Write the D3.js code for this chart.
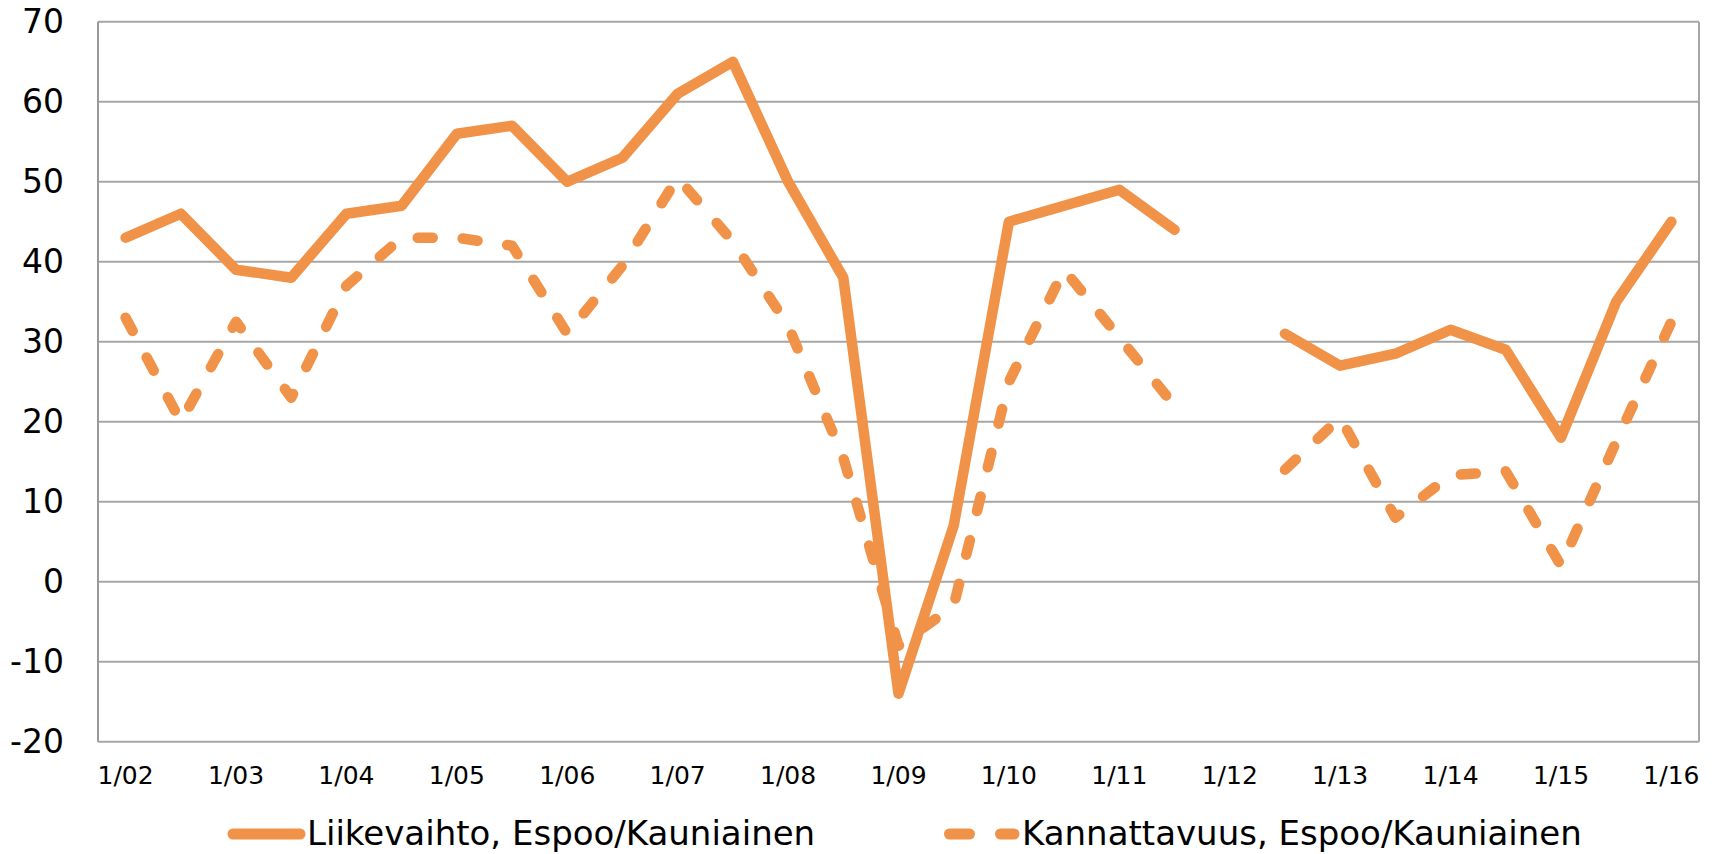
<!DOCTYPE html>
<html>
<head>
<meta charset="utf-8">
<script src="https://cdn.jsdelivr.net/npm/d3@7"></script>
<style>
  body { margin: 0; background: #fff; }
  text { font-family: "DejaVu Sans", sans-serif; fill: #000; }
</style>
</head>
<body>
<div id="chart"></div>
<script>
// half-year observations, 1/02 ... 1/16
let categories = ["1/02", "7/02", "1/03", "7/03", "1/04", "7/04", "1/05", "7/05",
    "1/06", "7/06", "1/07", "7/07", "1/08", "7/08", "1/09", "7/09", "1/10", "7/10",
    "1/11", "7/11", "1/12", "7/12", "1/13", "7/13", "1/14", "7/14", "1/15", "7/15", "1/16"];

let liikevaihto = [43, 46, 39, 38, 46, 47, 56, 57, 50, 53, 61, 65, 50, 38, -14, 7, 45, 47,
    49, 44, null, 31, 27, 28.5, 31.5, 29, 18, 35, 45];

let kannattavuus = [33, 20, 32.5, 23, 37, 43, 43, 42, 31, 39.5, 50.5, 42.5, 32, 15.5, -8, -3, 25, 39,
    30.5, 22, null, 14, 20.5, 8, 13.3, 13.8, 2, 17.5, 32.5];

let yTicks = [-20, -10, 0, 10, 20, 30, 40, 50, 60, 70];
let xTickLabels = ["1/02", "1/03", "1/04", "1/05", "1/06", "1/07", "1/08", "1/09",
    "1/10", "1/11", "1/12", "1/13", "1/14", "1/15", "1/16"];

let seriesNames = ["Liikevaihto, Espoo/Kauniainen", "Kannattavuus, Espoo/Kauniainen"];

let width = 1714, height = 854;
let plotLeft = 98, plotRight = 1699, plotTop = 21.7, plotBottom = 741.7;
let orange = "#F19249";
let gridColor = "#A6A6A6";

let svg = d3.select("#chart")
    .append("svg")
    .attr("width", width)
    .attr("height", height);

let x = d3.scaleBand()
    .domain(categories)
    .range([plotLeft, plotRight])
    .padding(0);

let y = d3.scaleLinear()
    .domain([-20, 70])
    .range([plotBottom, plotTop]);

// gridlines
svg.append("g")
    .selectAll("line")
    .data(yTicks)
    .join("line")
    .attr("x1", plotLeft)
    .attr("x2", plotRight)
    .attr("y1", d => y(d))
    .attr("y2", d => y(d))
    .attr("stroke", gridColor)
    .attr("stroke-width", 2);

// frame sides
svg.append("line")
    .attr("x1", plotLeft).attr("x2", plotLeft)
    .attr("y1", y(70)).attr("y2", y(-20))
    .attr("stroke", "#999").attr("stroke-width", 2);
svg.append("line")
    .attr("x1", plotRight).attr("x2", plotRight)
    .attr("y1", y(70)).attr("y2", y(-20))
    .attr("stroke", gridColor).attr("stroke-width", 2);

// y axis labels (plain hyphen for negatives, like the original)
let yAxis = d3.axisLeft(y)
    .tickValues(yTicks)
    .tickFormat(d => String(d))
    .tickSize(0)
    .tickPadding(34);

svg.append("g")
    .attr("transform", "translate(" + plotLeft + ",0)")
    .call(yAxis)
    .call(g => g.select(".domain").remove())
    .selectAll("text")
    .style("font-family", "DejaVu Sans, sans-serif")
    .style("font-size", "33px")
    .attr("fill", "#000");

// x axis labels, every other category
let xAxis = d3.axisBottom(x)
    .tickValues(xTickLabels)
    .tickSize(0)
    .tickPadding(0);

svg.append("g")
    .attr("transform", "translate(0," + plotBottom + ")")
    .call(xAxis)
    .call(g => g.select(".domain").remove())
    .selectAll("text")
    .attr("dy", null)
    .attr("y", 42)
    .style("font-family", "DejaVu Sans, sans-serif")
    .style("font-size", "25px")
    .attr("fill", "#000");

let line = d3.line()
    .defined(d => d !== null)
    .x((d, i) => x(categories[i]) + x.bandwidth() / 2)
    .y(d => y(d));

svg.append("path")
    .datum(kannattavuus)
    .attr("d", line)
    .attr("fill", "none")
    .attr("stroke", orange)
    .attr("stroke-width", 10.5)
    .attr("stroke-linecap", "round")
    .attr("stroke-linejoin", "round")
    .attr("stroke-dasharray", "15,30");

svg.append("path")
    .datum(liikevaihto)
    .attr("d", line)
    .attr("fill", "none")
    .attr("stroke", orange)
    .attr("stroke-width", 10.5)
    .attr("stroke-linecap", "round")
    .attr("stroke-linejoin", "round");

// legend
let legendY = 834;
let legend = svg.append("g");

legend.append("line")
    .attr("x1", 233).attr("x2", 300)
    .attr("y1", legendY).attr("y2", legendY)
    .attr("stroke", orange)
    .attr("stroke-width", 11)
    .attr("stroke-linecap", "round");

legend.append("text")
    .attr("x", 307)
    .attr("y", 845)
    .style("font-size", "34px")
    .text(seriesNames[0]);

legend.append("line")
    .attr("x1", 949.5).attr("x2", 1014)
    .attr("y1", legendY).attr("y2", legendY)
    .attr("stroke", orange)
    .attr("stroke-width", 11)
    .attr("stroke-linecap", "round")
    .attr("stroke-dasharray", "20,31");

legend.append("text")
    .attr("x", 1022)
    .attr("y", 845)
    .style("font-size", "34px")
    .text(seriesNames[1]);
</script>
</body>
</html>
